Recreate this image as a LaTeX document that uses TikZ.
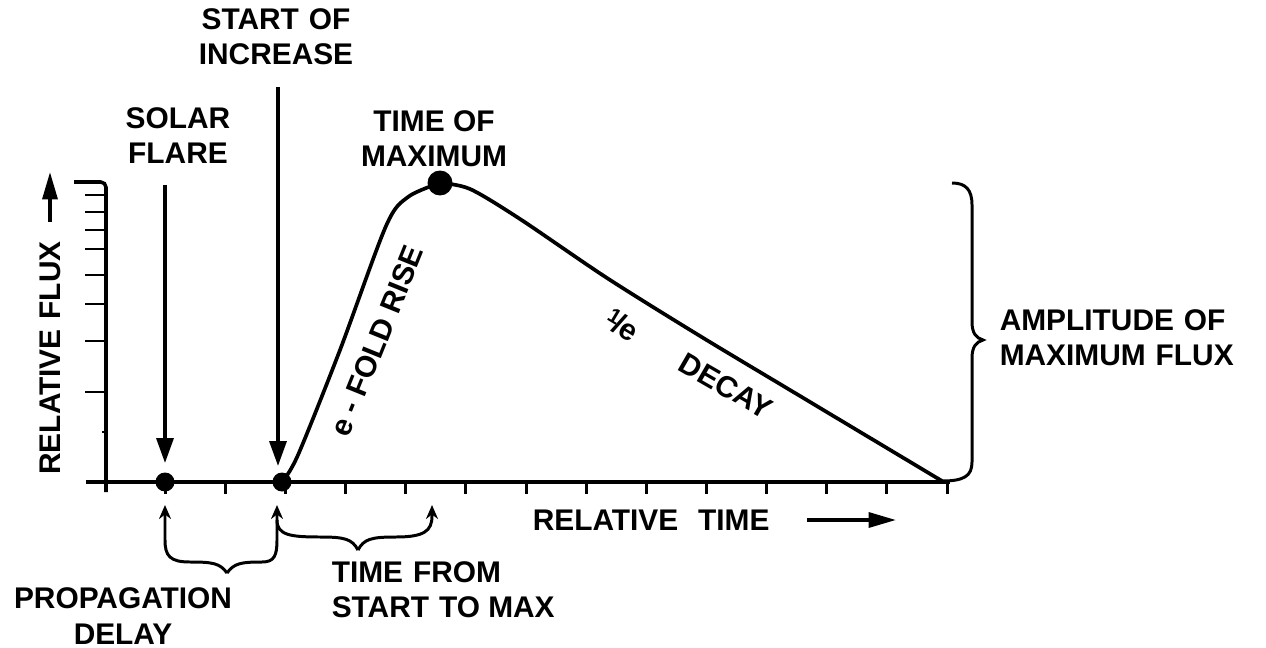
\documentclass[tikz,border=0pt]{standalone}
\usepackage{fontspec}
\setmainfont{Liberation Sans}
\usetikzlibrary{arrows.meta}
\begin{document}
\begin{tikzpicture}[x=0.02cm,y=-0.02cm,line width=2pt,
  lab/.style={font=\bfseries\fontsize{17}{20}\selectfont,align=center,inner sep=0pt},
  dot/.style={circle,fill,inner sep=0pt,minimum size=0.38cm},
  bigdot/.style={circle,fill,inner sep=0pt,minimum size=0.5cm},
  bigtip/.style={-{Triangle[length=0.5cm,width=0.34cm]}},
  axtip/.style={-{Triangle[length=0.55cm,width=0.3cm]}},
  smalltip/.style={-{Stealth[length=0.28cm,width=0.24cm]}},
  tick/.style={line width=1.7pt}]
\useasboundingbox (0,0) rectangle (1266,648);

% axes
\coordinate (ytop) at (74,182);
\coordinate (ycorner) at (106,182);
\coordinate (ybot) at (106,492);
\coordinate (xleft) at (86,482);
\coordinate (xright) at (950,482);
\draw[rounded corners=3pt] (ytop) -- (ycorner) -- (ybot);
\draw (xleft) -- (xright);
\foreach \yy in {195,212,230,249,275,304,341,392}
  \draw[tick] (85,\yy) -- (106,\yy);
\draw[tick] (102,432) -- (106,432);
\foreach \k in {1,...,14}
  \draw[tick] ({105+60.15*\k},482) -- ({105+60.15*\k},494);

% key points
\node[dot] (flare) at (165,482) {};
\node[dot] (start) at (282,482) {};
\node[bigdot] (max) at (440,183) {};
\coordinate (endpt) at (942,481);

% curve
\draw[line width=2.1pt] plot[smooth,tension=0.5] coordinates {(282,482) (298,455) (340,350) (386,226) (408,197) (440,183)};
\draw[line width=2.1pt] plot[smooth,tension=0.5] coordinates {(440,183) (470,189) (520,219) (607,278) (700,336) (800,396) (942,481)};

% top labels and arrows
\node[lab] (startlbl) at (276,37) {START\,\,OF\\INCREASE};
\node[lab] (solar) at (178,136) {SOLAR\\FLARE};
\node[lab] (tmax) at (434,139) {TIME OF\\MAXIMUM};
\coordinate (flaretop) at (165,185);
\coordinate (starttop) at (278,87);
\draw[bigtip] (flaretop) -- (165,463);
\draw[bigtip] (starttop) -- (278,466);

% curve labels
\node[lab,rotate=68] (efold) at (377,341) {e - FOLD RISE};
\node[lab,rotate=-31] (inve) at (622,325) {\raisebox{4pt}{\fontsize{12}{12}\selectfont 1}\kern-1pt/\kern-1pt e};
\node[lab,rotate=-30] (decay) at (726,386) {DECAY};

% axis labels
\node[lab,rotate=90] (relflux) at (50,358) {RELATIVE\,\,FLUX};
\coordinate (fluxa) at (50,222);
\coordinate (fluxb) at (50,172);
\draw[axtip] (fluxa) -- (fluxb);
\node[lab,anchor=west] (reltime) at (531,520) {RELATIVE\,\,\,\,TIME};
\coordinate (timea) at (807,520);
\coordinate (timeb) at (896,520);
\draw[axtip] (timea) -- (timeb);

% right brace
\coordinate (bt) at (952,183);
\coordinate (bc) at (983,340);
\draw[line width=1.7pt] (bt) .. controls (966,183) and (972,190) .. (972,205) -- (972,322)
  .. controls (972,333) and (976,338) .. (bc)
  .. controls (976,342) and (972,347) .. (972,358) -- (972,462)
  .. controls (972,476) and (964,481) .. (endpt);
\node[lab,anchor=west,align=left] (amp) at (998,338) {AMPLITUDE\,\,OF\\MAXIMUM\,\,FLUX};

% bottom braces
\coordinate (c1) at (227,573);
\coordinate (c2) at (358,550);
\coordinate (a1) at (165,505);
\coordinate (a2) at (277,505);
\coordinate (a3) at (432,505);
\draw[smalltip,line width=1.7pt] (c1) .. controls (220,563) and (212,562) .. (190,562)
  .. controls (170,562) and (165,556) .. (165,540) -- (a1);
\draw[smalltip,line width=1.7pt] (c1) .. controls (234,563) and (242,562) .. (262,562)
  .. controls (274,562) and (277,556) .. (277,540) -- (a2);
\draw[line width=1.7pt] (c2) .. controls (352,539) and (345,537) .. (320,537)
  .. controls (290,537) and (277,535) .. (277,520);
\draw[smalltip,line width=1.7pt] (c2) .. controls (364,539) and (371,537) .. (396,537)
  .. controls (424,537) and (432,531) .. (432,516) -- (a3);

\node[lab] (prop) at (123,616) {PROPAGATION\\DELAY};
\node[lab,anchor=west,align=left] (tfrom) at (330,590) {TIME\,\,FROM\\START\,\,TO MAX};
\end{tikzpicture}
\end{document}
